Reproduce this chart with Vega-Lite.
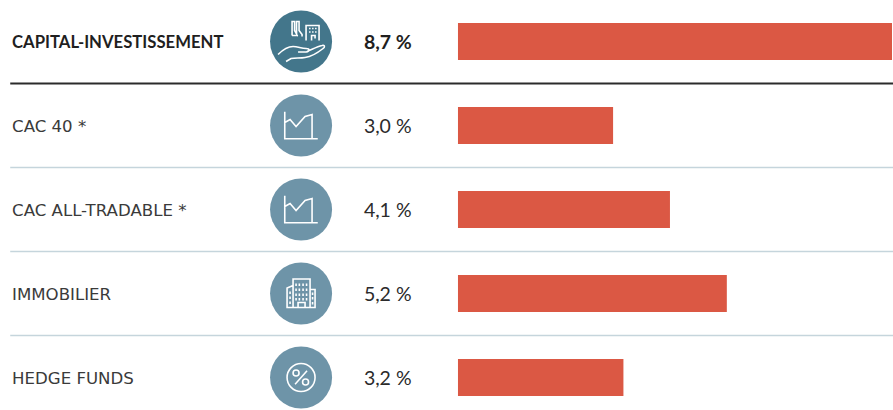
{"$schema":"https://vega.github.io/schema/vega-lite/v6.json","autosize":{"type":"fit","contains":"padding"},"width":893,"height":410,"padding":0,"background":"white","view":{"stroke":null},
"data":{"values":[
{"category":"CAPITAL-INVESTISSEMENT","value":8.7,"label":"8,7 %","icon":"capital","group":"highlight"},
{"category":"CAC 40 *","value":3.0,"label":"3,0 %","icon":"chart","group":"other"},
{"category":"CAC ALL-TRADABLE *","value":4.1,"label":"4,1 %","icon":"chart","group":"other"},
{"category":"IMMOBILIER","value":5.2,"label":"5,2 %","icon":"building","group":"other"},
{"category":"HEDGE FUNDS","value":3.2,"label":"3,2 %","icon":"percent","group":"other"}]},
"encoding":{"y":{"field":"category","type":"nominal","sort":null,"axis":null,"scale":{"range":[-0.5,419.5],"paddingInner":0,"paddingOuter":0}}},
"layer":[
{"mark":{"type":"bar","color":"#DB5844","height":37,"clip":true},"encoding":{"x":{"field":"value","type":"quantitative","axis":null,"scale":{"domain":[-8.858,8.414],"range":[0,893],"nice":false,"zero":false}}}},
{"mark":{"type":"point","filled":true,"opacity":1,"size":3844},"encoding":{"x":{"datum":-3.035,"type":"quantitative"},"color":{"field":"group","type":"nominal","scale":{"domain":["highlight","other"],"range":["#43768B","#6E94A8"]},"legend":null}}},
{"mark":{"type":"rule","strokeWidth":2,"color":"#2b2b2b"},"transform":[{"filter":"datum.group==='highlight'"}],"encoding":{"y":{"field":"category","type":"nominal","sort":null,"bandPosition":1},"x":{"datum":-8.66,"type":"quantitative"},"x2":{"datum":8.414}}},
{"mark":{"type":"rule","strokeWidth":1.3,"color":"#c5d5dc"},"transform":[{"filter":"datum.group!=='highlight' && datum.category!=='HEDGE FUNDS'"}],"encoding":{"y":{"field":"category","type":"nominal","sort":null,"bandPosition":1},"x":{"datum":-8.66,"type":"quantitative"},"x2":{"datum":8.414}}},
{"mark":{"type":"point","filled":false,"opacity":1,"size":4,"stroke":"white","strokeWidth":1.6},"encoding":{"x":{"datum":-3.035,"type":"quantitative"},"shape":{"field":"icon","type":"nominal","legend":null,"scale":{"domain":["capital","chart","building","percent"],"range":[
"M-9 -6V-20H-6.5V-11L-4.5 -7.5V-20H-2V-11L1 -7V-5M-9 -6H-3M5 -1V-16H18V-1M8 -13H9.5M11 -13H12.5M14 -13H15.5M8 -9.5H9.5M11 -9.5H12.5M14 -9.5H15.5M10.5 -1V-6H14V-3M-23 13C-18 8 -13 5 -8 5C-3 5 0 7 5 7C9 7 9 10 5 10.5H-3M6 10C11 8 16 5 21 4C24 3 24 6 22 7C17 11 11 15 4 16C-1 17 -6 16 -10 17L-15 20",
"M-16.3 -13.7V13.3H16.7M-16.3 -3L-11 -6L-5 1L4 -9L11 -11V13.3",
"M-8 14V-14.5H9V14M-8 -8L-14 -5.5V14H14V-4H9M-3 14V9H4V14M-5 -10V-7.5M-1.7 -10V-7.5M2 -10V-7.5M5.5 -10V-7.5M-5 -5V-2.5M-1.7 -5V-2.5M2 -5V-2.5M5.5 -5V-2.5M-5 0V2.5M-1.7 0V2.5M2 0V2.5M5.5 0V2.5M-5 4.5V7M-1.7 4.5V7M2 4.5V7M5.5 4.5V7M-11 -2V0.5M-11 3V5.5M-11 8V10.5M11.5 -1V1.5M11.5 3.5V6M11.5 8.5V11",
"M-14 0A14 14 0 1 0 14 0A14 14 0 1 0 -14 0M-6 6.7L6 -6.7M-8 -4.5A3 3 0 1 0 -2 -4.5A3 3 0 1 0 -8 -4.5M1.5 4.5A3 3 0 1 0 7.5 4.5A3 3 0 1 0 1.5 4.5"]}}}},
{"mark":{"type":"text","align":"left","baseline":"middle","font":"DejaVu Sans","fontSize":16.6,"dy":1.5,"color":"#3a3a3a"},"transform":[{"filter":"datum.group!=='highlight'"}],"encoding":{"x":{"datum":-8.625,"type":"quantitative"},"text":{"field":"category"}}},
{"mark":{"type":"text","align":"left","baseline":"middle","font":"Lato","fontSize":16.7,"dy":1.5,"fontWeight":"bold","color":"#1f1f1f"},"transform":[{"filter":"datum.group==='highlight'"}],"encoding":{"x":{"datum":-8.625,"type":"quantitative"},"text":{"field":"category"}}},
{"mark":{"type":"text","align":"left","baseline":"middle","font":"Lato","fontSize":19.5,"dy":1.5,"color":"#2b2b2b"},"transform":[{"filter":"datum.group!=='highlight'"}],"encoding":{"x":{"datum":-1.82,"type":"quantitative"},"text":{"field":"label"}}},
{"mark":{"type":"text","align":"left","baseline":"middle","font":"Lato","fontSize":19.5,"dy":1.5,"fontWeight":"bold","color":"#1f1f1f"},"transform":[{"filter":"datum.group==='highlight'"}],"encoding":{"x":{"datum":-1.82,"type":"quantitative"},"text":{"field":"label"}}}
]}
